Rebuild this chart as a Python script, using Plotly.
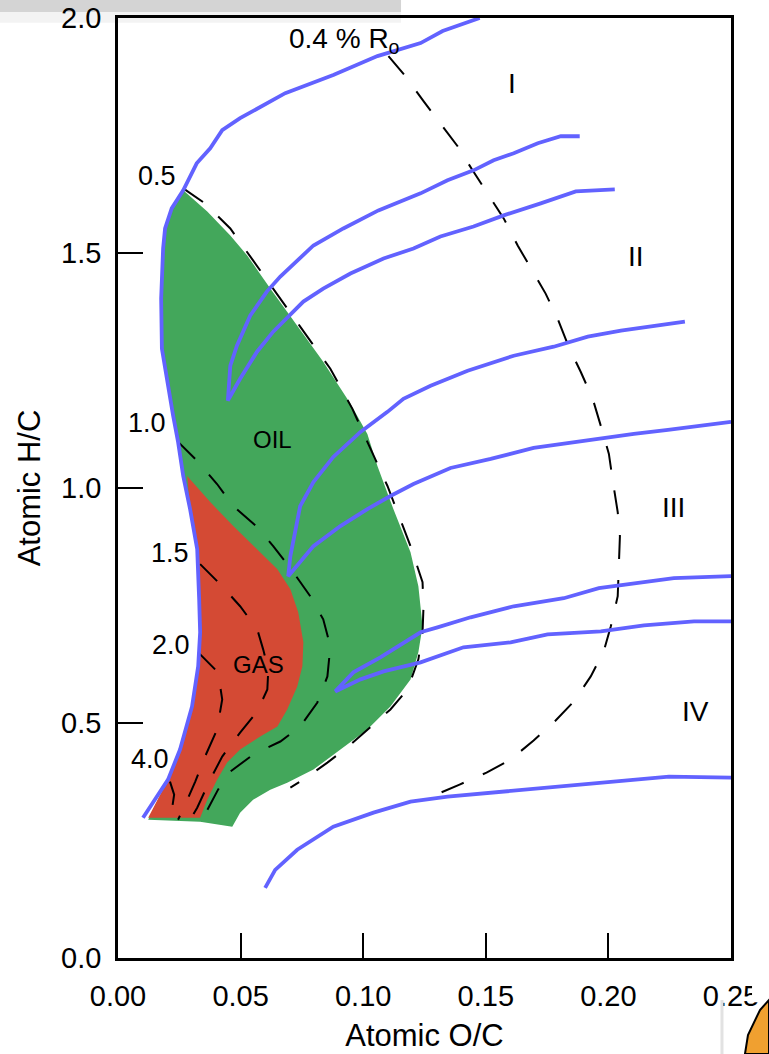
import plotly.graph_objects as go

# ---------------- data (atomic O/C, atomic H/C) ----------------
# Blue kerogen evolution paths
type_I_x = [0.0102, 0.0204, 0.0253, 0.0302, 0.0327, 0.0335, 0.0331, 0.0323, 0.0294, 0.0266, 0.0245,
            0.0225, 0.0179, 0.0176, 0.0184, 0.0192, 0.0219, 0.0266, 0.0321, 0.0376, 0.0425, 0.0498,
            0.0682, 0.0878, 0.1058, 0.1234, 0.1324, 0.1475]
type_I_y = [0.2985, 0.3795, 0.4435, 0.5352, 0.6205, 0.6930, 0.7633, 0.8699, 0.9552, 1.0256, 1.0981,
            1.1535, 1.2964, 1.4030, 1.5096, 1.5522, 1.5949, 1.6333, 1.6908, 1.7228, 1.7612, 1.7868,
            1.8401, 1.8785, 1.9190, 1.9467, 1.9723, 2.0000]

path_a_x = [0.1883, 0.1806, 0.1712, 0.1614, 0.1532, 0.1450, 0.1344, 0.1234, 0.1062, 0.0919, 0.0797,
            0.0662, 0.0607, 0.0539, 0.0485, 0.0458, 0.0448,
            0.0498, 0.0567, 0.0633, 0.0756, 0.0837, 0.0948, 0.1083, 0.1205, 0.1315, 0.1450, 0.1573,
            0.1724, 0.1867, 0.2026]
path_a_y = [1.7484, 1.7484, 1.7335, 1.7122, 1.6972, 1.6759, 1.6546, 1.6269, 1.5906, 1.5522, 1.5160,
            1.4499, 1.4179, 1.3667, 1.3028, 1.2601, 1.1861,
            1.2324, 1.2900, 1.3326, 1.3966, 1.4243, 1.4563, 1.4883, 1.5096, 1.5352, 1.5565, 1.5800,
            1.6055, 1.6311, 1.6354]

path_b_x = [0.2312, 0.2173, 0.2051, 0.1916, 0.1777, 0.1614, 0.1426, 0.1275, 0.1164, 0.1099, 0.0989,
            0.0878, 0.0797, 0.0743, 0.0703, 0.0694,
            0.0797, 0.0907, 0.1017, 0.1111, 0.1205, 0.1356, 0.1520, 0.1695, 0.1887, 0.2104, 0.2243,
            0.2500]
path_b_y = [1.3539, 1.3433, 1.3348, 1.3220, 1.3006, 1.2814, 1.2495, 1.2175, 1.1898, 1.1620, 1.1194,
            1.0661, 1.0128, 0.9616, 0.8550, 0.8124,
            0.8763, 0.9190, 0.9552, 0.9829, 1.0085, 1.0426, 1.0618, 1.0853, 1.1002, 1.1151, 1.1237,
            1.1407]

path_c_x = [0.2500, 0.2267, 0.1961, 0.1818, 0.1614, 0.1438, 0.1303, 0.1234, 0.1070, 0.0960, 0.0886,
            0.0989, 0.1083, 0.1234, 0.1409, 0.1601, 0.1752, 0.1969, 0.2145, 0.2349, 0.2500]
path_c_y = [0.8124, 0.8081, 0.7868, 0.7655, 0.7484, 0.7249, 0.7036, 0.6930, 0.6397, 0.6077, 0.5672,
            0.5928, 0.6098, 0.6290, 0.6610, 0.6716, 0.6887, 0.6951, 0.7079, 0.7164, 0.7164]

path_d_x = [0.0600, 0.0641, 0.0731, 0.0878, 0.1042, 0.1193, 0.1344, 0.1560, 0.1818, 0.2022, 0.2247, 0.2500]
path_d_y = [0.1493, 0.1876, 0.2303, 0.2793, 0.3092, 0.3326, 0.3433, 0.3539, 0.3646, 0.3753, 0.3859, 0.3838]

# Oil window (green) and gas window (red) outlines
oil_x = [0.0123, 0.0204, 0.0253, 0.0302, 0.0327, 0.0335, 0.0331, 0.0323, 0.0294, 0.0266, 0.0245,
         0.0225, 0.0179, 0.0176, 0.0184, 0.0192, 0.0219, 0.0266,
         0.0364, 0.0458, 0.0527, 0.0621, 0.0731, 0.0837, 0.0948, 0.1017, 0.1058, 0.1123, 0.1193,
         0.1225, 0.1242, 0.1225, 0.1193, 0.1111, 0.1017, 0.0907, 0.0797, 0.0690, 0.0621, 0.0551,
         0.0498, 0.0466, 0.0335]
oil_y = [0.2942, 0.3795, 0.4435, 0.5352, 0.6205, 0.6930, 0.7633, 0.8699, 0.9552, 1.0256, 1.0981,
         1.1535, 1.2964, 1.4030, 1.5096, 1.5522, 1.5949, 1.6333,
         1.5885, 1.5373, 1.4947, 1.4243, 1.3454, 1.2687, 1.1791, 1.1151, 1.0469, 0.9552, 0.8635,
         0.7910, 0.7058, 0.6503, 0.5928, 0.5352, 0.4861, 0.4435, 0.4009, 0.3731, 0.3582, 0.3369,
         0.3092, 0.2793, 0.2900]

gas_x = [0.0282, 0.0376, 0.0470, 0.0568, 0.0650, 0.0703, 0.0735, 0.0756, 0.0752, 0.0731, 0.0690,
         0.0650, 0.0580, 0.0498, 0.0445, 0.0404, 0.0364, 0.0335, 0.0123,
         0.0204, 0.0253, 0.0302, 0.0327, 0.0335, 0.0331, 0.0323, 0.0294]
gas_y = [1.0256, 0.9701, 0.9190, 0.8699, 0.8273, 0.7846, 0.7356, 0.6716, 0.6205, 0.5778, 0.5288,
         0.4925, 0.4712, 0.4435, 0.4158, 0.3795, 0.3369, 0.2985, 0.2985,
         0.3795, 0.4435, 0.5352, 0.6205, 0.6930, 0.7633, 0.8699, 0.9552]

# Vitrinite reflectance (%Ro) isolines (dashed)
ro04_x = [0.1103, 0.1172, 0.1246, 0.1315, 0.1385, 0.1446, 0.1511, 0.1573, 0.1630, 0.1683, 0.1744,
          0.1793, 0.1838, 0.1887, 0.1936, 0.1969, 0.2002, 0.2018, 0.2038, 0.2047, 0.2042, 0.2038,
          0.2010, 0.1981, 0.1928, 0.1859, 0.1777, 0.1695, 0.1601, 0.1503, 0.1393, 0.1287]
ro04_y = [1.9190, 1.8763, 1.8230, 1.7761, 1.7271, 1.6759, 1.6226, 1.5736, 1.5160, 1.4670, 1.4136,
          1.3603, 1.3006, 1.2473, 1.1898, 1.1322, 1.0725, 1.0149, 0.9488, 0.8977, 0.8273, 0.7697,
          0.7058, 0.6525, 0.5991, 0.5458, 0.5011, 0.4627, 0.4222, 0.3945, 0.3689, 0.3454]

ro05_x = [0.0266, 0.0355, 0.0458, 0.0539, 0.0621, 0.0743, 0.0866, 0.0956, 0.1017, 0.1099, 0.1193,
          0.1242, 0.1246, 0.1242, 0.1225, 0.1181, 0.1111, 0.1017, 0.0935, 0.0854, 0.0756, 0.0703]
ro05_y = [1.6375, 1.6055, 1.5522, 1.4925, 1.4307, 1.3433, 1.2537, 1.1684, 1.0981, 1.0043, 0.8763,
          0.7996, 0.7484, 0.6930, 0.6354, 0.5714, 0.5288, 0.4861, 0.4478, 0.4158, 0.3795, 0.3625]

ro10_x = [0.0245, 0.0323, 0.0404, 0.0470, 0.0568, 0.0633, 0.0715, 0.0784, 0.0837, 0.0866, 0.0854,
          0.0813, 0.0743, 0.0662, 0.0551, 0.0458, 0.0408, 0.0343]
ro10_y = [1.0981, 1.0576, 1.0085, 0.9616, 0.9168, 0.8763, 0.8209, 0.7697, 0.7207, 0.6631, 0.5991,
          0.5437, 0.4925, 0.4606, 0.4328, 0.3966, 0.3582, 0.2942]

ro15_x = [0.0335, 0.0417, 0.0498, 0.0568, 0.0592, 0.0613, 0.0609, 0.0568, 0.0498, 0.0425, 0.0376,
          0.0323, 0.0294]
ro15_y = [0.8380, 0.7953, 0.7484, 0.6994, 0.6567, 0.6141, 0.5714, 0.5245, 0.4797, 0.4286, 0.3795,
          0.3198, 0.2942]

ro20_x = [0.0327, 0.0408, 0.0425, 0.0404, 0.0355, 0.0315, 0.0274, 0.0245]
ro20_y = [0.6503, 0.6077, 0.5501, 0.4861, 0.4286, 0.3753, 0.3262, 0.2942]

ro40_x = [0.0212, 0.0229, 0.0221, 0.0225]
ro40_y = [0.3753, 0.3475, 0.3198, 0.2942]

x_ticks = [0.00, 0.05, 0.10, 0.15, 0.20, 0.25]
x_tick_text = ["0.00", "0.05", "0.10", "0.15", "0.20", "0.25"]
y_ticks = [0.0, 0.5, 1.0, 1.5, 2.0]
y_tick_text = ["0.0", "0.5", "1.0", "1.5", "2.0"]

# ---------------- styles ----------------
FONT = "Liberation Sans, Arial, sans-serif"
BLUE = "#6262FF"
GREEN = "#43A75B"
RED = "#D44A34"

fig = go.Figure()

fig.add_trace(go.Scatter(x=oil_x, y=oil_y, mode="lines", fill="toself", fillcolor=GREEN,
                         line=dict(width=0, color=GREEN), hoverinfo="skip"))
fig.add_trace(go.Scatter(x=gas_x, y=gas_y, mode="lines", fill="toself", fillcolor=RED,
                         line=dict(width=0, color=RED), hoverinfo="skip"))

for xs, ys in [(ro04_x, ro04_y), (ro05_x, ro05_y), (ro10_x, ro10_y), (ro15_x, ro15_y),
               (ro20_x, ro20_y), (ro40_x, ro40_y)]:
    fig.add_trace(go.Scatter(x=xs, y=ys, mode="lines", hoverinfo="skip",
                             line=dict(color="black", width=2, dash="24px,21px")))

for xs, ys in [(type_I_x, type_I_y), (path_a_x, path_a_y), (path_b_x, path_b_y),
               (path_c_x, path_c_y), (path_d_x, path_d_y)]:
    fig.add_trace(go.Scatter(x=xs, y=ys, mode="lines", hoverinfo="skip",
                             line=dict(color=BLUE, width=3.8)))

annotations = []


def label(text, x, y, size):
    annotations.append(dict(text=text, x=x, y=y, xref="x", yref="y", showarrow=False,
                            font=dict(family=FONT, size=size, color="black"),
                            xanchor="center", yanchor="middle"))


label("0.4 % R<sub>o</sub>", 0.0925, 1.953, 28)
label("0.5", 0.0159, 1.663, 27)
label("1.0", 0.0119, 1.138, 27)
label("1.5", 0.0212, 0.861, 27)
label("2.0", 0.0217, 0.665, 27)
label("4.0", 0.0131, 0.424, 27)
label("OIL", 0.0629, 1.104, 24)
label("GAS", 0.0572, 0.625, 24)
label("I", 0.1605, 1.861, 28)
label("II", 0.2112, 1.492, 28)
label("III", 0.2267, 0.959, 28)
label("IV", 0.2357, 0.524, 28)

axis_common = dict(showline=True, linecolor="black", linewidth=2.5, mirror=True,
                   ticks="inside", ticklen=25, tickwidth=1.5, tickcolor="black",
                   showgrid=False, zeroline=False, automargin=False,
                   tickfont=dict(family=FONT, size=29, color="black"))

fig.update_layout(
    width=769, height=1054,
    margin=dict(l=118, r=38, t=18, b=96, autoexpand=False),
    paper_bgcolor="white", plot_bgcolor="white",
    showlegend=False,
    annotations=annotations,
    xaxis=dict(range=[0, 0.25], tickvals=x_ticks, ticktext=x_tick_text,
               title=dict(text="Atomic O/C", font=dict(family=FONT, size=31, color="black"),
                          standoff=14),
               ticklabelstandoff=10, **axis_common),
    yaxis=dict(range=[0, 2.0], tickvals=y_ticks, ticktext=y_tick_text,
               title=dict(text="Atomic H/C", font=dict(family=FONT, size=31, color="black"),
                          standoff=12),
               ticklabelstandoff=8, **axis_common),
    shapes=[
        # grey strip of the screenshot frame at the top left
        dict(type="rect", xref="paper", yref="paper", x0=-0.2, x1=0.4617, y0=1.0064, y1=1.0192,
             fillcolor="#D4D4D4", line=dict(width=0), layer="below"),
        dict(type="rect", xref="paper", yref="paper", x0=-0.2, x1=0.4617, y0=0.995, y1=1.0064,
             fillcolor="#F3F3F3", line=dict(width=0), layer="below"),
        # crop of the last tick label at the right edge
        dict(type="rect", xref="paper", yref="paper", x0=1.0343, x1=1.08, y0=-0.047, y1=-0.006,
             fillcolor="white", line=dict(width=0), layer="above"),
        # edge of the inset panel and partial logo in the bottom-right corner
        dict(type="line", xref="paper", yref="paper", x0=0.9853, x1=0.9853, y0=-0.0447, y1=-0.11,
             line=dict(color="#E2E2E2", width=3), layer="above"),
        dict(type="path", xref="paper", yref="paper",
             path="M 1.0228 -0.1021 L 1.0277 -0.0819 L 1.0473 -0.0553 L 1.062 -0.0447 L 1.062 -0.1021 Z",
             fillcolor="#F0A030", line=dict(color="black", width=2), layer="above"),
    ],
)

fig.write_html("out.html", config={"displayModeBar": False},
               post_script="document.body.style.margin='0px';")
